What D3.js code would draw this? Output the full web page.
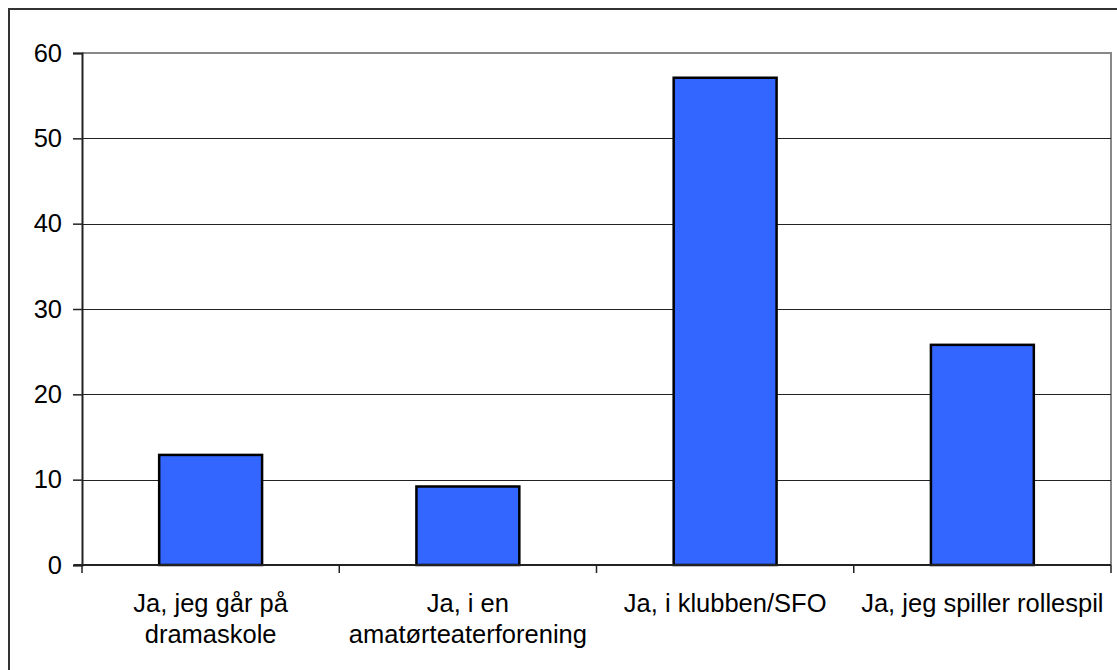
<!DOCTYPE html>
<html><head><meta charset="utf-8">
<script src="https://cdn.jsdelivr.net/npm/d3@7"></script>
<style>body{margin:0;background:#fff}svg{display:block}</style>
</head><body>
<svg id="c" width="1117" height="670"></svg>
<script>
const categories = [["Ja, jeg går på","dramaskole"],["Ja, i en","amatørteaterforening"],["Ja, i klubben/SFO"],["Ja, jeg spiller rollespil"]];
const values = [12.9, 9.2, 57.1, 25.8];
const yTicks = [0,10,20,30,40,50,60];

const svg = d3.select("#c");
const L=82, R=1111, T=53, B=565;
const font = "'Liberation Sans', Arial, sans-serif";
const fs = 25.5;

svg.append("rect").attr("x",9).attr("y",9).attr("width",1120).attr("height",680)
  .attr("fill","none").attr("stroke","#333").attr("stroke-width",2);

const x = d3.scaleBand().domain(d3.range(categories.length)).range([L,R]).paddingInner(0.6).paddingOuter(0.3);
const xb = d3.scaleBand().domain(d3.range(categories.length)).range([L,R]);
const y = d3.scaleLinear().domain([0,60]).range([B,T]);

// plot area border (top/right gray)
svg.append("path").attr("d",`M${L},${T}H${R}V${B}`).attr("fill","none").attr("stroke","#888").attr("stroke-width",2);

// gridlines
svg.append("g").selectAll("line").data(yTicks.filter(d=>d>0 && d<60)).join("line")
  .attr("x1",L).attr("x2",R).attr("y1",d=>Math.round(y(d))+0.5).attr("y2",d=>Math.round(y(d))+0.5)
  .attr("stroke","#222").attr("stroke-width",1);

// bars
svg.append("g").selectAll("rect").data(values).join("rect")
  .attr("x",(d,i)=>x(i)).attr("width",x.bandwidth())
  .attr("y",d=>y(d)).attr("height",d=>B-y(d))
  .attr("fill","#3366ff").attr("stroke","#000").attr("stroke-width",2.5);

// y axis
const ya = svg.append("g").attr("transform",`translate(${L},0)`)
  .call(d3.axisLeft(y).tickValues(yTicks).tickSize(9).tickPadding(11).tickFormat(d3.format("d")));
ya.select(".domain").attr("stroke","#222").attr("stroke-width",2);
ya.selectAll(".tick line").attr("stroke","#222").attr("stroke-width",1.5);
ya.selectAll("text").attr("font-family",font).attr("font-size",fs).attr("fill","#000");

// x axis
const tickPos = d3.range(categories.length+1).map(i=> i<categories.length ? xb(i) : R);
const xg = svg.append("g");
xg.append("line").attr("x1",L-8).attr("x2",R).attr("y1",B).attr("y2",B).attr("stroke","#222").attr("stroke-width",2);
xg.selectAll("line.t").data(tickPos).join("line").attr("class","t")
  .attr("x1",d=>d).attr("x2",d=>d).attr("y1",B).attr("y2",B+8).attr("stroke","#222").attr("stroke-width",1.5);
const lbl = xg.selectAll("text").data(categories).join("text")
  .attr("x",(d,i)=>xb(i)+xb.bandwidth()/2).attr("y",612)
  .attr("text-anchor","middle").attr("font-family",font).attr("font-size",fs).attr("fill","#000");
lbl.selectAll("tspan").data(d=>d).join("tspan")
  .attr("x",function(){return this.parentNode.getAttribute("x");})
  .attr("dy",(d,i)=>i===0?0:31).text(d=>d);
</script>
</body></html>
